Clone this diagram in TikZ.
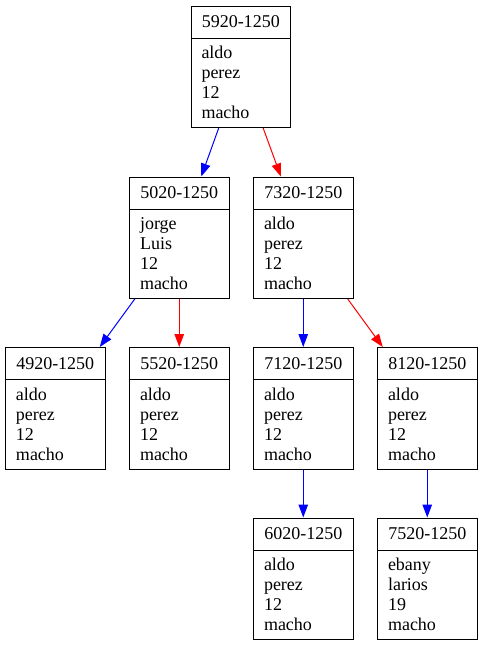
\documentclass[tikz,border=0pt]{standalone}
\usepackage{fontspec}
\setmainfont{Liberation Serif}
\usetikzlibrary{arrows.meta,shapes.multipart}

\newcommand{\ficha}[5]{\rule[-6pt]{0pt}{23pt}#1\nodepart{two}\rule{0pt}{16pt}#2\\#3\\#4\\#5\rule[-4.5pt]{0pt}{4.5pt}}

\begin{document}
\begin{tikzpicture}[x=1pt, y=-1pt,
		record/.style={draw, line width=1pt, rectangle split, rectangle split parts=2,
			rectangle split part align={center,left}, align=left,
			minimum width=99.5pt, inner xsep=10.5pt, inner ysep=4pt, anchor=north west,
			font=\fontsize{18}{20}\selectfont},
		izq/.style={blue, line width=1pt, -{Triangle[length=13pt,width=9.5pt]}},
		der/.style={red, line width=1pt, -{Triangle[length=13pt,width=9.5pt]}}]
	\useasboundingbox (0,0) rectangle (483,645);
	% nivel 0
	\node[record] (r5920) at (190.5,5.5) {\ficha{5920-1250}{aldo}{perez}{12}{macho}};
	% nivel 1
	\node[record] (r5020) at (129,176.5) {\ficha{5020-1250}{jorge}{Luis}{12}{macho}};
	\node[record] (r7320) at (253,176.5) {\ficha{7320-1250}{aldo}{perez}{12}{macho}};
	% nivel 2
	\node[record] (r4920) at (5,347) {\ficha{4920-1250}{aldo}{perez}{12}{macho}};
	\node[record] (r5520) at (129,347) {\ficha{5520-1250}{aldo}{perez}{12}{macho}};
	\node[record] (r7120) at (253,347) {\ficha{7120-1250}{aldo}{perez}{12}{macho}};
	\node[record] (r8120) at (377,347) {\ficha{8120-1250}{aldo}{perez}{12}{macho}};
	% nivel 3
	\node[record] (r6020) at (253,517.5) {\ficha{6020-1250}{aldo}{perez}{12}{macho}};
	\node[record] (r7520) at (377,517.5) {\ficha{7520-1250}{ebany}{larios}{19}{macho}};
	% aristas
	\draw[izq] (r5920) -- (r5020);
	\draw[der] (r5920) -- (r7320);
	\draw[izq] (r5020) -- (r4920);
	\draw[der] (r5020) -- (r5520);
	\draw[izq] (r7320) -- (r7120);
	\draw[der] (r7320) -- (r8120);
	\draw[izq] (r7120) -- (r6020);
	\draw[izq] (r8120) -- (r7520);
\end{tikzpicture}
\end{document}
